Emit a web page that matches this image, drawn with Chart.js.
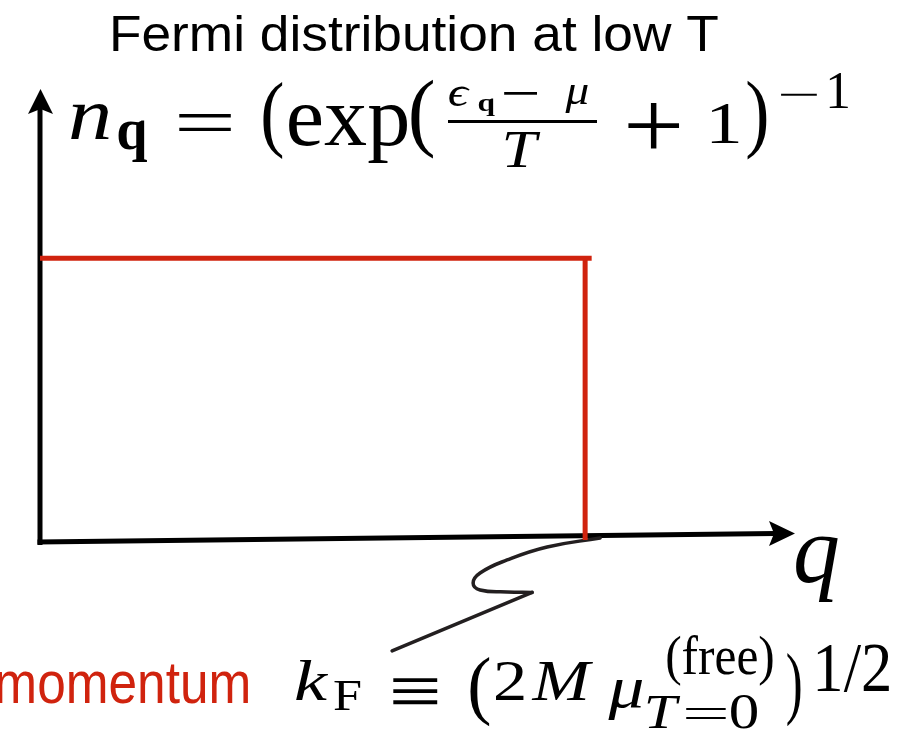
<!DOCTYPE html>
<html>
<head>
<meta charset="utf-8">
<title>Fermi distribution at low T</title>
<script src="https://cdn.jsdelivr.net/npm/chart.js@4/dist/chart.umd.min.js"></script>
<style>
  html, body { margin: 0; padding: 0; background: #ffffff; }
  #wrap { width: 910px; height: 730px; position: relative; }
</style>
</head>
<body>
<div id="wrap"><canvas id="fermi"></canvas></div>
<script>
// Occupation n_q at T -> 0, momentum q in units of k_F
const qFilled = [0, 1.012];
const nFilled = [1, 1];
const qEdge = [1, 1];
const nEdge = [1, 0];

// Leader line from k_F on the q axis down to the k_F definition
const leaderCurveQ = [1.0275, 0.9303, 0.8569, 0.8073, 0.7945, 0.8073, 0.8569, 0.9028];
const leaderCurveN = [0.0071, -0.0248, -0.0709, -0.1170, -0.1525, -0.1773, -0.1844, -0.1860];
const leaderTailQ = [0.9028, 0.6459];
const leaderTailN = [-0.1860, -0.3936];

const qMax = 1.385;
const nMax = 1.6;

const titleText = 'Fermi distribution at low T';
const sideLabel = 'momentum';
const axisLabel = 'q';

const RED = '#d0230e';
const INK = '#000000';

const pts = (xs, ys) => xs.map((x, i) => ({ x: x, y: ys[i] }));

// Draw a text run so that its ink fills [top,bottom] and roughly [x1,x2];
// horizontal stretch is kept within `maxStretch` of the vertical scale.
function fit(ctx, txt, font, x1, x2, top, bottom, color, maxStretch) {
  const k = maxStretch || 1.2;
  ctx.save();
  ctx.font = font;
  ctx.textAlign = 'left';
  ctx.textBaseline = 'alphabetic';
  const m = ctx.measureText(txt);
  const w = m.actualBoundingBoxLeft + m.actualBoundingBoxRight;
  const h = m.actualBoundingBoxAscent + m.actualBoundingBoxDescent;
  const sy = (bottom - top) / h;
  let sx = (x2 - x1) / w;
  sx = Math.min(Math.max(sx, sy / k), sy * k);
  const inkW = w * sx;
  const left = (x1 + x2) / 2 - inkW / 2;
  ctx.translate(left + m.actualBoundingBoxLeft * sx, top + m.actualBoundingBoxAscent * sy);
  ctx.scale(sx, sy);
  ctx.fillStyle = color || INK;
  ctx.fillText(txt, 0, 0);
  ctx.restore();
}

// Draw a run centred on cx with its baseline at `base`, widened by sx
function place(ctx, txt, font, cx, base, sx, color) {
  ctx.save();
  ctx.font = font;
  ctx.textAlign = 'center';
  ctx.textBaseline = 'alphabetic';
  ctx.translate(cx, base);
  ctx.scale(sx, 1);
  ctx.fillStyle = color || INK;
  ctx.fillText(txt, 0, 0);
  ctx.restore();
}

const SANS = '"Liberation Sans", Arial, Helvetica, sans-serif';
const SERIF = '"Liberation Serif", "DejaVu Serif", serif';

const axesPlugin = {
  id: 'arrowAxes',
  beforeDatasetsDraw(chart) {
    const { ctx, chartArea, scales } = chart;
    const x0 = scales.x.getPixelForValue(0);
    const y0 = scales.y.getPixelForValue(0);
    const top = chartArea.top;
    const right = chartArea.right;
    ctx.save();
    ctx.strokeStyle = INK;
    ctx.fillStyle = INK;
    ctx.lineWidth = 5;
    ctx.lineCap = 'butt';

    // vertical axis with arrow
    ctx.beginPath();
    ctx.moveTo(x0, y0 + 5);
    ctx.lineTo(x0, top + 20);
    ctx.stroke();
    ctx.beginPath();
    ctx.moveTo(x0 + 0.5, top);
    ctx.lineTo(x0 + 13, top + 25);
    ctx.lineTo(x0 + 0.5, top + 20);
    ctx.lineTo(x0 - 12, top + 25);
    ctx.closePath();
    ctx.fill();

    // horizontal axis with arrow (drawn with a slight rise to the right)
    const yl = y0 + 2, yr = y0 - 6.5;
    ctx.beginPath();
    ctx.moveTo(x0 - 2.5, yl);
    ctx.lineTo(right - 20, yr);
    ctx.stroke();
    ctx.beginPath();
    ctx.moveTo(right, yr);
    ctx.lineTo(right - 26, yr - 12.5);
    ctx.lineTo(right - 21, yr);
    ctx.lineTo(right - 26, yr + 12.5);
    ctx.closePath();
    ctx.fill();
    ctx.restore();
  }
};

const labelsPlugin = {
  id: 'formulaLabels',
  afterDraw(chart) {
    const ctx = chart.ctx;
    const it = 'italic 80px ' + SERIF;
    const rm = '80px ' + SERIF;
    const bd = 'bold 60px ' + SERIF;
    const sit = 'italic 54px ' + SERIF;
    const srm = '54px ' + SERIF;

    // title
    fit(ctx, titleText, '52px ' + SANS, 113, 718, 15, 52, INK, 1.1);

    // n_q = (exp((eps_q - mu)/T + 1)^-1
    fit(ctx, 'n', it, 65, 114, 104, 140);
    fit(ctx, 'q', bd, 118, 147, 120, 162);
    fit(ctx, '=', rm, 178, 232, 112, 130, INK, 2);
    fit(ctx, '(', rm, 263, 283, 82, 160, INK, 1.6);
    fit(ctx, 'exp', rm, 289, 407, 104, 163);
    fit(ctx, '(', rm, 411, 434, 79, 160, INK, 1.6);
    fit(ctx, '\u03F5', sit, 448, 471, 86, 107);
    fit(ctx, 'q', 'bold 40px ' + SERIF, 473, 500, 98, 117);
    fit(ctx, '\u2212', srm, 503, 537, 91, 95, INK, 2);
    fit(ctx, '\u03BC', sit, 561, 592, 86, 113);
    ctx.fillStyle = INK;
    ctx.fillRect(448, 120, 149, 3);
    fit(ctx, 'T', sit, 503, 543, 132, 167);
    fit(ctx, '+', rm, 627, 680, 102, 148, INK, 1.4);
    place(ctx, '1', '60px ' + SERIF, 724, 143, 1.25);
    fit(ctx, ')', rm, 747, 767, 80, 160, INK, 1.6);
    fit(ctx, '\u2212', srm, 780, 817, 93, 96, INK, 2);
    fit(ctx, '1', srm, 829, 848, 73, 108, INK, 1.4);

    // axis label
    fit(ctx, axisLabel, 'italic 96px ' + SERIF, 796, 838, 537, 602);

    // red side label
    fit(ctx, sideLabel, '50px ' + SANS, 1, 245, 664, 703, RED, 1.15);

    // k_F = (2 M mu_{T=0}^{(free)})^{1/2}
    fit(ctx, 'k', it, 293, 331, 660, 700, INK, 1.3);
    fit(ctx, 'F', srm, 331, 364, 681, 710);
    fit(ctx, '\u2261', rm, 392, 438, 677, 704, INK, 1.6);
    fit(ctx, '(', rm, 470, 490, 657, 727, INK, 1.6);
    place(ctx, '2', '57px ' + SERIF, 510, 700, 1.2);
    fit(ctx, 'M', it, 527, 598, 662, 700);
    fit(ctx, '\u03BC', it, 603, 647, 679, 720);
    fit(ctx, '(free)', srm, 667, 773, 635, 686);
    fit(ctx, 'T', sit, 647, 681, 695, 728);
    fit(ctx, '=', srm, 684, 727, 707, 718, INK, 2);
    fit(ctx, '0', srm, 731, 757, 695, 729, INK, 1.3);
    fit(ctx, ')', rm, 787, 801, 652, 727, INK, 1.6);
    fit(ctx, '1/2', srm, 817, 890, 644, 692);
  }
};

new Chart(document.getElementById('fermi'), {
  type: 'line',
  data: {
    datasets: [
      { label: 'filled states', data: pts(qFilled, nFilled), borderColor: RED, borderWidth: 5,
        pointRadius: 0, tension: 0, clip: false },
      { label: 'Fermi edge', data: pts(qEdge, nEdge), borderColor: RED, borderWidth: 5,
        pointRadius: 0, tension: 0, clip: false },
      { label: 'leader', data: pts(leaderCurveQ, leaderCurveN), borderColor: '#231f20', borderWidth: 3.5,
        pointRadius: 0, tension: 0.45, clip: false, borderCapStyle: 'round' },
      { label: 'leader tail', data: pts(leaderTailQ, leaderTailN), borderColor: '#231f20', borderWidth: 3.5,
        pointRadius: 0, tension: 0, clip: false, borderCapStyle: 'round' }
    ]
  },
  options: {
    responsive: true,
    maintainAspectRatio: false,
    animation: false,
    events: [],
    layout: { padding: { left: 40, right: 115, top: 89, bottom: 190 } },
    scales: {
      x: { type: 'linear', min: 0, max: qMax, display: false },
      y: { type: 'linear', min: 0, max: nMax, display: false }
    },
    plugins: { legend: { display: false }, tooltip: { enabled: false } }
  },
  plugins: [axesPlugin, labelsPlugin]
});
</script>
</body>
</html>
